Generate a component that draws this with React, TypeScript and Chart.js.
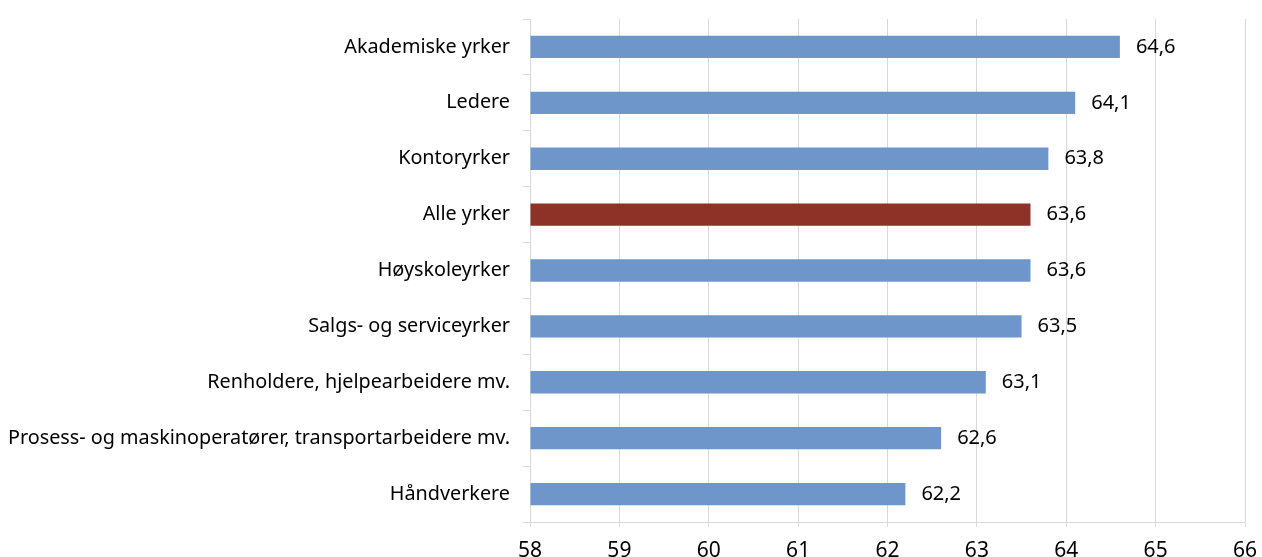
import React, { useEffect, useRef } from "react";
import { Chart, registerables } from "chart.js";

Chart.register(...registerables);

const categories = [
  "Akademiske yrker",
  "Ledere",
  "Kontoryrker",
  "Alle yrker",
  "Høyskoleyrker",
  "Salgs- og serviceyrker",
  "Renholdere, hjelpearbeidere mv.",
  "Prosess- og maskinoperatører, transportarbeidere mv.",
  "Håndverkere",
];
const values = [64.6, 64.1, 63.8, 63.6, 63.6, 63.5, 63.1, 62.6, 62.2];
const highlighted = "Alle yrker";
const xTicks = [58, 59, 60, 61, 62, 63, 64, 65, 66];

const BLUE = "#6f96cb";
const RED = "#8e3127";
const GRID = "#d9d9d9";
const FONT = "'Noto Sans', sans-serif";

const valueLabels = {
  id: "valueLabels",
  afterDatasetsDraw(chart: any) {
    const ctx = chart.ctx;
    const meta = chart.getDatasetMeta(0);
    ctx.save();
    ctx.font = `20px ${FONT}`;
    ctx.fillStyle = "#000";
    ctx.textAlign = "left";
    ctx.textBaseline = "middle";
    meta.data.forEach((bar: any, i: number) => {
      const txt = values[i].toFixed(1).replace(".", ",");
      ctx.fillText(txt, bar.x + 16, bar.y);
    });
    ctx.restore();
  },
};

export default function App() {
  const ref = useRef<HTMLCanvasElement | null>(null);
  useEffect(() => {
    if (!ref.current) return;
    const chart = new Chart(ref.current, {
      type: "bar",
      data: {
        labels: categories,
        datasets: [
          {
            data: values,
            backgroundColor: categories.map((c) => (c === highlighted ? RED : BLUE)),
            barPercentage: 0.4,
            categoryPercentage: 1,
            base: 58,
          },
        ],
      },
      options: {
        indexAxis: "y",
        animation: false,
        responsive: true,
        maintainAspectRatio: false,
        layout: { padding: { top: 19, right: 17, left: 0, bottom: 0 } },
        plugins: { legend: { display: false }, tooltip: { enabled: false } },
        scales: {
          x: {
            min: 58,
            max: 66,
            afterBuildTicks: (scale: any) => {
              scale.ticks = xTicks.map((v) => ({ value: v }));
            },
            grid: { color: GRID, tickLength: 5, lineWidth: 1 },
            border: { color: GRID },
            ticks: {
              color: "#000",
              font: { family: FONT, size: 21 },
              padding: 11,
              maxRotation: 0,
            },
            afterFit: (scale: any) => {
              scale.height = 35;
              scale.paddingLeft = 0;
              scale.paddingRight = 0;
            },
          },
          y: {
            grid: { drawOnChartArea: false, drawTicks: true, tickLength: 7, color: GRID, offset: true },
            border: { color: GRID },
            ticks: {
              color: "#000",
              font: { family: FONT, size: 19.8 },
              padding: 13,
              autoSkip: false,
            },
            afterFit: (scale: any) => {
              scale.width = 530;
              scale.paddingTop = 0;
              scale.paddingBottom = 0;
            },
          },
        },
      },
      plugins: [valueLabels],
    });
    return () => chart.destroy();
  }, []);
  return (
    <div style={{ position: "fixed", left: 0, top: 0, width: 1262, height: 557, background: "#fff" }}>
      <canvas ref={ref} />
    </div>
  );
}
